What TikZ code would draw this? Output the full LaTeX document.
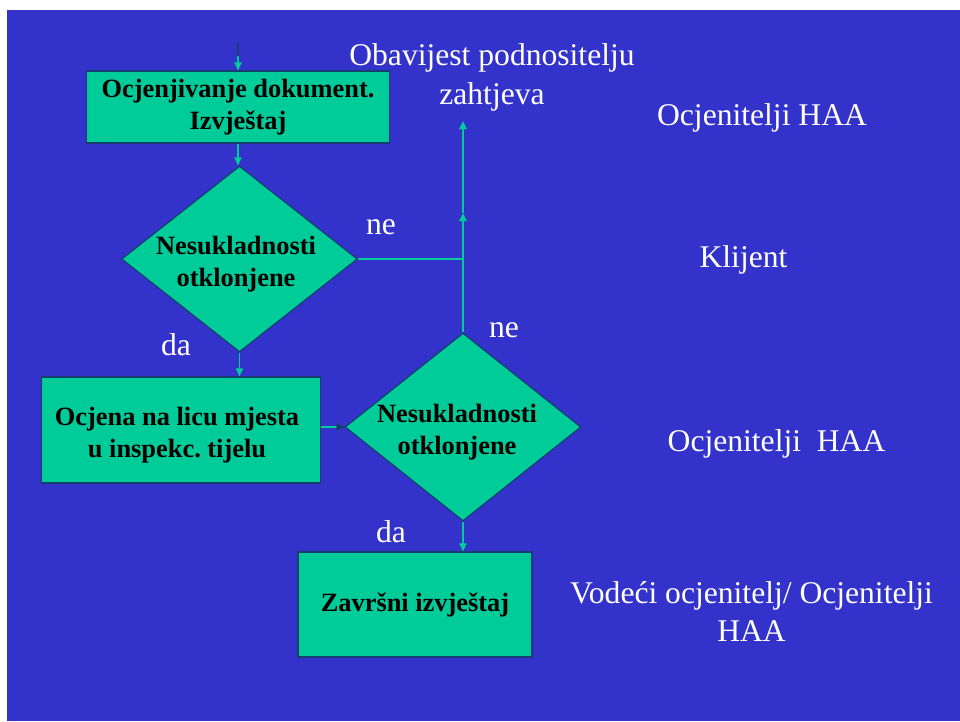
\documentclass[tikz,border=0pt]{standalone}
\usepackage{fontspec}
\setmainfont{Liberation Serif}
\usetikzlibrary{arrows.meta,shapes.geometric}
\definecolor{bgblue}{RGB}{51,51,204}
\definecolor{boxg}{RGB}{0,204,153}
\definecolor{edgec}{RGB}{22,62,110}
\definecolor{lineg}{RGB}{0,204,153}
\frenchspacing
\begin{document}
\begin{tikzpicture}[x=0.75pt,y=-0.75pt,
  box/.style={rectangle, draw=edgec, line width=0.9pt, fill=boxg, inner sep=0pt,
    font=\bfseries\fontsize{19.8}{23.5}\selectfont, align=center},
  dia/.style={diamond, draw=edgec, line width=0.9pt, fill=boxg, inner sep=0pt},
  dtext/.style={font=\bfseries\fontsize{19.8}{24}\selectfont, align=center, inner sep=0pt},
  lab/.style={text=white, font=\fontsize{23.7}{29}\selectfont, align=center, inner sep=0pt},
  conn/.style={draw=lineg, line width=1.1pt, -{Triangle[length=6pt,width=5.5pt]}},
  plain/.style={draw=lineg, line width=1.1pt}]
\useasboundingbox (0,0) rectangle (960,721);
\fill[white] (0,0) rectangle (960,721);
\fill[bgblue] (7,10) rectangle (960,721);

% shapes
\node[box, minimum width=227.25pt, minimum height=54pt] (b1) at (238,107)
  {Ocjenjivanje dokument.\\Izvještaj};
\node[dia, minimum width=177pt, minimum height=139.5pt] (d1) at (239.5,259) {};
\node[dtext] (d1t) at (236,264) {Nesukladnosti\\otklonjene};
\node[box, minimum width=209.25pt, minimum height=79.5pt] (b2) at (181,430) {};
\node[dtext] (b2t) at (177,435) {Ocjena na licu mjesta\\u inspekc. tijelu};
\node[dia, minimum width=177pt, minimum height=141pt] (d2) at (463,427) {};
\node[dtext] (d2t) at (457,432) {Nesukladnosti\\otklonjene};
\node[box, minimum width=175.5pt, minimum height=78.75pt] (b3) at (415,604.5)
  {Završni izvještaj};

% coordinates
\coordinate (in1) at (238,42);
\coordinate (in2) at (238,56);
\coordinate (mid) at (463,213);
\coordinate (top) at (463,121);

% connectors
\draw[conn] (in1) -- (b1.north);
\draw[draw=edgec, line width=1.1pt] (in1) -- (in2);
\draw[conn] (b1.south) -- (b1.south |- d1.north);
\draw[conn] (d1.south) -- (d1.south |- b2.north);
\draw[draw=lineg, line width=1.1pt, -{Triangle[length=6pt,width=5.5pt,color=edgec]}]
  (b2.east |- d2.west) -- (d2.west);
\draw[conn] (d2.south) -- (d2.south |- b3.north);
\draw[conn] (d2.north) -- (mid);
\draw[conn] (mid) -- (top);
\draw[plain] (d1.east) -- (d1.east -| d2.north);

% labels
\node[lab, anchor=base] (l1) at (492,65) {Obavijest podnositelju};
\node[lab, anchor=base] (l1b) at (492,104) {zahtjeva};
\node[lab, anchor=base] (l2) at (762,125) {Ocjenitelji HAA};
\node[lab, anchor=base] (l3) at (743.5,267) {Klijent};
\node[lab, anchor=base] (l4) at (776.5,451) {Ocjenitelji \ HAA};
\node[lab, anchor=base] (l5) at (751.5,603) {Vodeći ocjenitelj/ Ocjenitelji};
\node[lab, anchor=base] (l5b) at (751.5,641) {HAA};
\node[lab, anchor=base] (ne1) at (381,234) {ne};
\node[lab, anchor=base] (ne2) at (504,337) {ne};
\node[lab, anchor=base] (da1) at (176,355) {da};
\node[lab, anchor=base] (da2) at (391,542) {da};
\end{tikzpicture}
\end{document}
